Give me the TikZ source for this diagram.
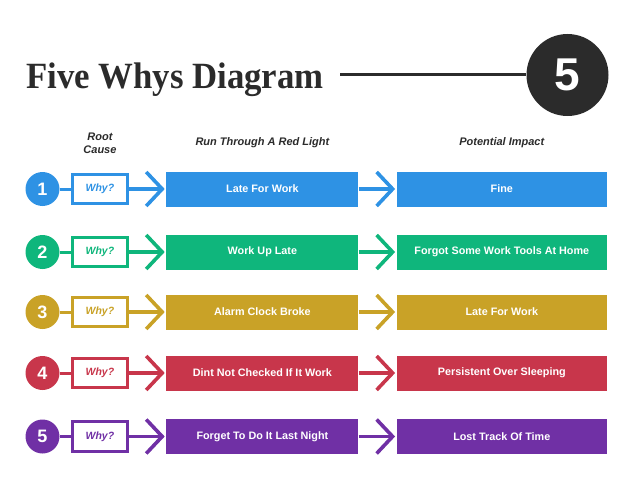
\documentclass[tikz,border=0pt]{standalone}
\usepackage{fontspec}
\setmainfont{Liberation Sans}
\newfontfamily\titlefont{Liberation Serif}
\usepackage{graphicx}
\usetikzlibrary{arrows.meta, positioning}
\definecolor{titleDark}{HTML}{2B2B2B}
\definecolor{whyBlue}{HTML}{2E92E4}
\definecolor{whyGreen}{HTML}{0FB67C}
\definecolor{whyGold}{HTML}{C9A227}
\definecolor{whyRed}{HTML}{C8364B}
\definecolor{whyPurple}{HTML}{7030A5}
\tikzset{
  numDot/.style={circle, fill=#1, text=white, font=\bfseries\fontsize{18}{18}\selectfont,
                 minimum size=34pt, inner sep=0pt},
  whyBox/.style={rectangle, draw=#1, line width=3pt, fill=white, text=#1,
                 font=\bfseries\itshape\fontsize{10.5}{12}\selectfont,
                 minimum width=55.5pt, minimum height=29.5pt},
  causeBox/.style={rectangle, fill=#1, text=white, font=\bfseries\fontsize{10.8}{12}\selectfont,
                   minimum width=192pt, minimum height=35pt},
  impactBox/.style={causeBox=#1, minimum width=210pt},
  linkLine/.style={#1, line width=3pt},
  arrowW/.style={#1, line width=3.6pt, -{Straight Barb[length=16pt, width=34pt]}, shorten >=1.5pt},
  headText/.style={font=\bfseries\itshape\fontsize{11}{13}\selectfont, text=titleDark,
                   align=center, inner sep=0pt},
}

\begin{document}
\begin{tikzpicture}[x=1pt, y=-1pt]
  \useasboundingbox (0,0) rectangle (640,495);
  % title
  \node[anchor=base west, inner sep=0pt, text=titleDark] (title) at (26,88.5)
    {\scalebox{0.94}[1]{\titlefont\bfseries\fontsize{37}{37}\selectfont Five Whys Diagram}};
  \node[circle, fill=titleDark, text=white, minimum size=82pt, inner sep=0pt,
        font=\bfseries\fontsize{46}{46}\selectfont] (bigFive) at (567.5,75) {5};
  \coordinate (lineStart) at (340,75);
  \draw[line width=3pt, titleDark] (lineStart) -- (bigFive);

  % row 1
  \node[numDot=whyBlue] (n1) at (42.5,189) {1};
  \node[whyBox=whyBlue, right=11pt of n1] (w1) {Why?};
  \node[causeBox=whyBlue, right=37pt of w1] (c1) {Late For Work};
  \node[impactBox=whyBlue, right=38pt of c1] (i1) {Fine};
  \draw[linkLine=whyBlue] (n1) -- (w1);
  \draw[arrowW=whyBlue] (w1) -- (c1);
  \draw[arrowW=whyBlue] (c1) -- (i1);

  % headers
  \node[headText, above=19pt of w1] (hRoot) {Root\\Cause};
  \node[headText, above=23pt of c1] (hRun) {Run Through A Red Light};
  \node[headText, above=23pt of i1] (hImpact) {Potential Impact};

  % row 2
  \node[numDot=whyGreen] (n2) at (42.5,252) {2};
  \node[whyBox=whyGreen, right=11pt of n2] (w2) {Why?};
  \node[causeBox=whyGreen, right=37pt of w2] (c2) {Work Up Late};
  \node[impactBox=whyGreen, right=38pt of c2] (i2) {Forgot Some Work Tools At Home};
  \draw[linkLine=whyGreen] (n2) -- (w2);
  \draw[arrowW=whyGreen] (w2) -- (c2);
  \draw[arrowW=whyGreen] (c2) -- (i2);

  % row 3
  \node[numDot=whyGold] (n3) at (42.5,312) {3};
  \node[whyBox=whyGold, right=11pt of n3] (w3) {Why?};
  \node[causeBox=whyGold, right=37pt of w3] (c3) {Alarm Clock Broke};
  \node[impactBox=whyGold, right=38pt of c3] (i3) {Late For Work};
  \draw[linkLine=whyGold] (n3) -- (w3);
  \draw[arrowW=whyGold] (w3) -- (c3);
  \draw[arrowW=whyGold] (c3) -- (i3);

  % row 4
  \node[numDot=whyRed] (n4) at (42.5,373) {4};
  \node[whyBox=whyRed, right=11pt of n4] (w4) {Why?};
  \node[causeBox=whyRed, right=37pt of w4] (c4) {Dint Not Checked If It Work};
  \node[impactBox=whyRed, right=38pt of c4] (i4) {Persistent Over Sleeping};
  \draw[linkLine=whyRed] (n4) -- (w4);
  \draw[arrowW=whyRed] (w4) -- (c4);
  \draw[arrowW=whyRed] (c4) -- (i4);

  % row 5
  \node[numDot=whyPurple] (n5) at (42.5,436.5) {5};
  \node[whyBox=whyPurple, right=11pt of n5] (w5) {Why?};
  \node[causeBox=whyPurple, right=37pt of w5] (c5) {Forget To Do It Last Night};
  \node[impactBox=whyPurple, right=38pt of c5] (i5) {Lost Track Of Time};
  \draw[linkLine=whyPurple] (n5) -- (w5);
  \draw[arrowW=whyPurple] (w5) -- (c5);
  \draw[arrowW=whyPurple] (c5) -- (i5);
\end{tikzpicture}
\end{document}
